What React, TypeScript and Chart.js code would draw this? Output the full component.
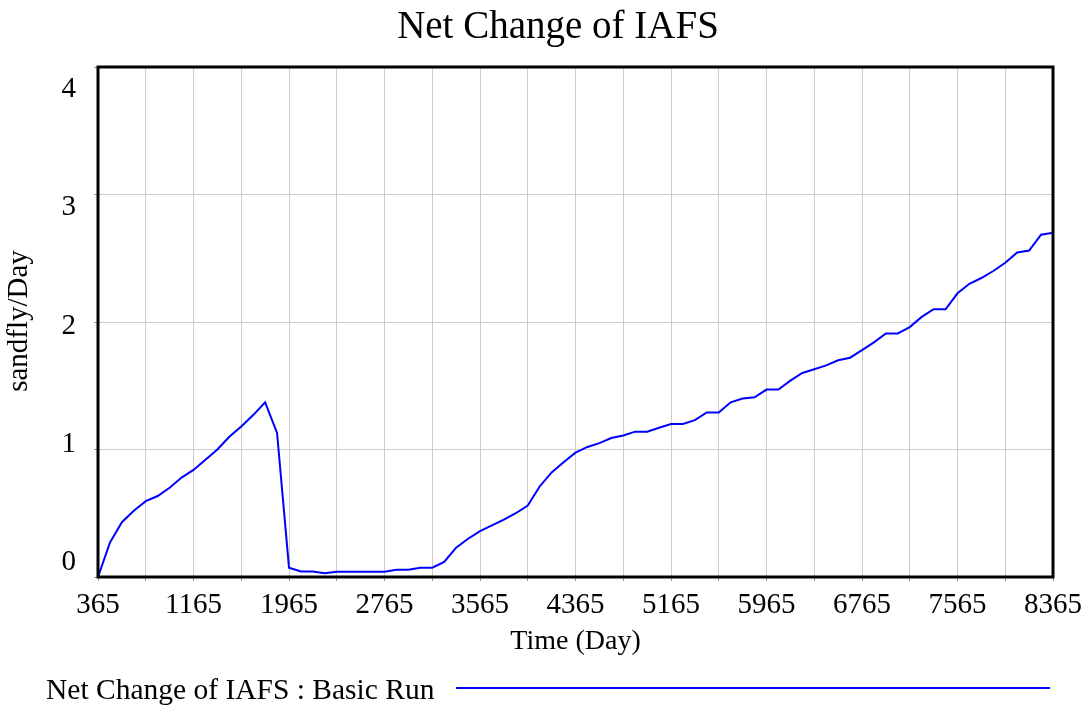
import React, { useEffect, useRef } from "react";
import { Chart, registerables } from "chart.js";

Chart.register(...registerables);

const TITLE = "Net Change of IAFS";
const Y_TITLE = "sandfly/Day";
const X_TITLE = "Time (Day)";
const SERIES_NAME = "Net Change of IAFS : Basic Run";

const days: number[] = [
  365, 465, 565, 665, 765, 865, 965, 1065, 1165, 1265,
  1365, 1465, 1565, 1665, 1765, 1865, 1965, 2065, 2165, 2265,
  2365, 2465, 2565, 2665, 2765, 2865, 2965, 3065, 3165, 3265,
  3365, 3465, 3565, 3665, 3765, 3865, 3965, 4065, 4165, 4265,
  4365, 4465, 4565, 4665, 4765, 4865, 4965, 5065, 5165, 5265,
  5365, 5465, 5565, 5665, 5765, 5865, 5965, 6065, 6165, 6265,
  6365, 6465, 6565, 6665, 6765, 6865, 6965, 7065, 7165, 7265,
  7365, 7465, 7565, 7665, 7765, 7865, 7965, 8065, 8165, 8265,
  8365,
];

const netChange: number[] = [
  0, 0.27, 0.43, 0.52, 0.595, 0.635, 0.7, 0.78, 0.84, 0.92,
  1.0, 1.1, 1.18, 1.27, 1.37, 1.13, 0.073, 0.043, 0.043, 0.03,
  0.042, 0.042, 0.042, 0.042, 0.042, 0.057, 0.057, 0.073, 0.073, 0.118,
  0.23, 0.3, 0.36, 0.405, 0.45, 0.5, 0.56, 0.71, 0.82, 0.9,
  0.975, 1.02, 1.05, 1.09, 1.11, 1.14, 1.14, 1.17, 1.2, 1.2,
  1.23, 1.29, 1.29, 1.37, 1.4, 1.41, 1.47, 1.47, 1.54, 1.6,
  1.63, 1.66, 1.7, 1.72, 1.78, 1.84, 1.91, 1.91, 1.96, 2.04,
  2.1, 2.1, 2.225, 2.3, 2.345, 2.4, 2.465, 2.545, 2.56, 2.685,
  2.7,
];

const xTickLabels: string[] = ["365", "1165", "1965", "2765", "3565", "4365", "5165", "5965", "6765", "7565", "8365"];
const xGridDays: number[] = [
  365, 765, 1165, 1565, 1965, 2365, 2765, 3165, 3565, 3965, 4365,
  4765, 5165, 5565, 5965, 6365, 6765, 7165, 7565, 7965, 8365,
];
const yTickLabels: string[] = ["0", "1", "2", "3", "4"];

const FONT = "'Liberation Serif', 'Times New Roman', serif";

export default function App() {
  const canvasRef = useRef<HTMLCanvasElement | null>(null);

  useEffect(() => {
    const canvas = canvasRef.current;
    if (!canvas) return;

    const decor = {
      id: "decor",
      afterDatasetsDraw(chart: any) {
        const ctx = chart.ctx as CanvasRenderingContext2D;
        const area = chart.chartArea;
        const xs = chart.scales.x;
        const ys = chart.scales.y;
        ctx.save();
        // frame
        ctx.strokeStyle = "#000";
        ctx.lineWidth = 3;
        ctx.strokeRect(area.left, area.top, area.right - area.left, area.bottom - area.top);

        ctx.fillStyle = "#000";
        // title
        ctx.font = `39px ${FONT}`;
        ctx.textAlign = "center";
        ctx.textBaseline = "alphabetic";
        ctx.fillText(TITLE, 558, 38);

        // x tick labels
        ctx.font = `29px ${FONT}`;
        ctx.textAlign = "center";
        xTickLabels.forEach((lab) => {
          const px = xs.getPixelForValue(Number(lab));
          ctx.fillText(lab, px, 613);
        });

        // y tick labels (spread as in the reference)
        ctx.textAlign = "right";
        yTickLabels.forEach((lab) => {
          const v = Number(lab);
          const y0 = ys.getPixelForValue(0) - 7;
          const y4 = ys.getPixelForValue(4) + 30;
          const py = y0 + (y4 - y0) * (v / 4);
          ctx.fillText(lab, 76, py);
        });

        // x axis title
        ctx.font = `28px ${FONT}`;
        ctx.textAlign = "center";
        ctx.fillText(X_TITLE, (area.left + area.right) / 2, 649);

        // y axis title
        ctx.save();
        ctx.font = `29px ${FONT}`;
        ctx.translate(27, 321);
        ctx.rotate(-Math.PI / 2);
        ctx.textAlign = "center";
        ctx.fillText(Y_TITLE, 0, 0);
        ctx.restore();

        // legend
        ctx.font = `29.5px ${FONT}`;
        ctx.textAlign = "left";
        ctx.fillText(SERIES_NAME, 46, 699);
        ctx.strokeStyle = "#0000ff";
        ctx.lineWidth = 2;
        ctx.beginPath();
        ctx.moveTo(456, 688);
        ctx.lineTo(1050, 688);
        ctx.stroke();
        ctx.restore();
      },
    };

    const chart = new Chart(canvas, {
      type: "line",
      data: {
        datasets: [
          {
            label: SERIES_NAME,
            data: days.map((d, i) => ({ x: d, y: netChange[i] })),
            borderColor: "#0000ff",
            borderWidth: 2,
            pointRadius: 0,
            tension: 0,
            fill: false,
          },
        ],
      },
      options: {
        animation: false,
        responsive: false,
        layout: { padding: { top: 67, right: 34, left: 0, bottom: 0 } },
        plugins: {
          legend: { display: false },
          title: { display: false },
          tooltip: { enabled: false },
        },
        scales: {
          x: {
            type: "linear",
            min: 365,
            max: 8365,
            afterBuildTicks: (s: any) => {
              s.ticks = xGridDays.map((v) => ({ value: v }));
            },
            afterFit: (s: any) => {
              s.height = 130;
            },
            ticks: { display: false },
            border: { display: false },
            grid: { color: "#cccccc", lineWidth: 1, drawTicks: true, tickLength: 4, tickColor: "#999999" },
          },
          y: {
            type: "linear",
            min: 0,
            max: 4,
            afterBuildTicks: (s: any) => {
              s.ticks = yTickLabels.map((v) => ({ value: Number(v) }));
            },
            afterFit: (s: any) => {
              s.width = 98;
            },
            ticks: { display: false },
            border: { display: false },
            grid: { color: "#cccccc", lineWidth: 1, drawTicks: true, tickLength: 4, tickColor: "#999999" },
          },
        },
      },
      plugins: [decor],
    });

    return () => {
      chart.destroy();
    };
  }, []);

  return (
    <div style={{ position: "absolute", left: 0, top: 0, width: 1087, height: 707, background: "#fff" }}>
      <canvas ref={canvasRef} width={1087} height={707} style={{ display: "block" }} />
    </div>
  );
}
